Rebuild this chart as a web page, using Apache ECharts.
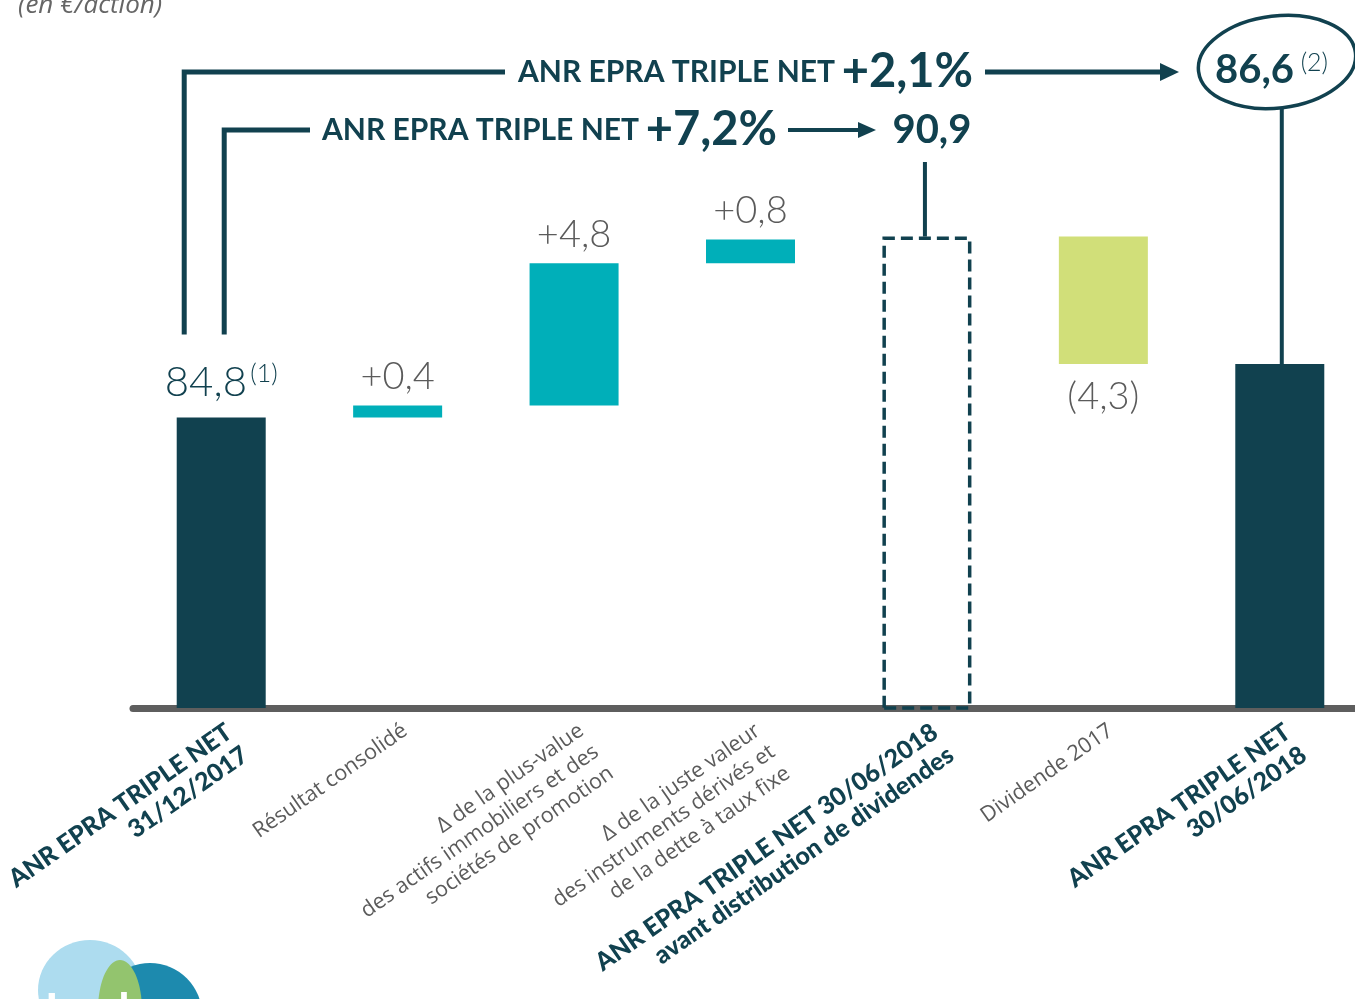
<!DOCTYPE html>
<html>
<head>
<meta charset="utf-8">
<script src="https://cdn.jsdelivr.net/npm/echarts@6/dist/echarts.min.js"></script>
<style>
html,body{margin:0;padding:0;background:#fff;}
#chart{width:1355px;height:999px;}
</style>
</head>
<body>
<div id="chart"></div>
<script>
// ---- data ----
const categories = [
  "ANR EPRA TRIPLE NET\n31/12/2017",
  "Résultat consolidé",
  "Δ de la plus-value\ndes actifs immobiliers et des\nsociétés de promotion",
  "Δ de la juste valeur\ndes instruments dérivés et\nde la dette à taux fixe",
  "ANR EPRA TRIPLE NET 30/06/2018\navant distribution de dividendes",
  "Dividende 2017",
  "ANR EPRA TRIPLE NET\n30/06/2018"
];
const boldCategory = [true, false, false, false, true, false, true];
const openingValue = 84.8;
const increases = [null, 0.4, 4.8, 0.8, null, null, null];
const subtotalValue = 90.9;
const decreases = [null, null, null, null, null, 4.3, null];
const closingValue = 86.6;
const growthLabels = ["+2,1%", "+7,2%"];
const footnotes = ["(1)", "(2)"];
const unitLabel = "(en €/action)";

// ---- colours ----
const DARK = '#11414F', TEAL = '#00AFB9', GREEN = '#D1DF79', GREY = '#5B5B5B';

const fmt = v => v.toFixed(1).replace('.', ',');

// running base for the waterfall
const base = [], totals = [], incr = [], decr = [], sub = [];
let run = openingValue;
for (let i = 0; i < categories.length; i++) {
  base.push('-'); totals.push('-'); incr.push('-'); decr.push('-'); sub.push('-');
}
totals[0] = openingValue; base[0] = 0;
for (let i = 1; i < 4; i++) { base[i] = run; incr[i] = increases[i]; run += increases[i]; }
sub[4] = subtotalValue; base[4] = 0;
base[5] = subtotalValue - decreases[5]; decr[5] = decreases[5];
totals[6] = closingValue; base[6] = 0;

const chart = echarts.init(document.getElementById('chart'), null, {renderer: 'canvas'});

const option = {
  animation: false,
  grid: {left: 133, width: 1235, top: 115, bottom: 291, containLabel: false, outerBoundsMode: 'none'},
  xAxis: {
    type: 'category',
    data: categories,
    axisLine: {show: true, lineStyle: {color: '#5E5E5E', width: 7, cap: 'round'}},
    axisTick: {show: false},
    axisLabel: {
      interval: 0,
      rotate: 35,
      margin: 10,
      align: 'right',
      verticalAlign: 'top',
      formatter: (val, idx) => {
        const tag = boldCategory[idx] ? 'b' : 'n';
        return val.split('\n').map(l => '{' + tag + '|' + l + '}').join('\n');
      },
      rich: {
        b: {fontFamily: 'Lato', fontWeight: 900, fontSize: 25, color: DARK, lineHeight: 28},
        n: {fontFamily: 'Open Sans', fontSize: 21.5, color: GREY, lineHeight: 26}
      }
    }
  },
  yAxis: {
    type: 'value', min: 75, max: 95, show: false, splitLine: {show: false}
  },
  series: [
    {name: 'base', type: 'bar', stack: 'w', data: base, barWidth: 89,
     itemStyle: {color: 'transparent'}, silent: true},
    {name: 'total', type: 'bar', stack: 'w', data: totals, barWidth: 89,
     itemStyle: {color: DARK},
     label: {show: true, position: 'top', distance: 14,
       formatter: p => p.dataIndex === 0 ? '{v|' + fmt(p.value) + '} {s|' + footnotes[0] + '}' : '',
       rich: {
         v: {fontFamily: 'Lato', fontWeight: 300, fontSize: 42, color: DARK},
         s: {fontFamily: 'Lato', fontWeight: 300, fontSize: 25, color: DARK, padding: [0, 0, 16, 0]}
       }}},
    {name: 'increase', type: 'bar', stack: 'w', data: incr, barWidth: 89,
     itemStyle: {color: TEAL},
     label: {show: true, position: 'top', distance: 10,
       formatter: p => '+' + fmt(p.value),
       fontFamily: 'Lato', fontWeight: 300, fontSize: 38, color: GREY}},
    {name: 'subtotal', type: 'bar', stack: 'w', data: sub, barWidth: 87,
     itemStyle: {color: 'rgba(255,255,255,0)', borderColor: DARK, borderWidth: 3.5, borderType: [12, 6]}},
    {name: 'decrease', type: 'bar', stack: 'w', data: decr, barWidth: 89,
     itemStyle: {color: GREEN},
     label: {show: true, position: 'bottom', distance: 14,
       formatter: p => '(' + fmt(p.value) + ')',
       fontFamily: 'Lato', fontWeight: 300, fontSize: 38, color: GREY}}
  ]
};
chart.setOption(option);

// ---- annotations placed from the chart's own scales ----
const px = (i, v) => chart.convertToPixel({xAxisIndex: 0, yAxisIndex: 0}, [i, v]);
const p0 = px(0, openingValue);
const p4 = px(4, subtotalValue);
const p6 = px(6, closingValue);
const bracketBottom = p0[1] - 83;
const row1 = 72, row2 = 130;
const lw = {stroke: DARK, lineWidth: 5, fill: null, lineJoin: 'miter'};
const headRich = {a: {font: 'bold 30px Lato', fill: DARK}, g: {font: 'bold 47px Lato', fill: DARK}};

const graphics = [
  // unit label
  {type: 'text', left: 18, top: -7, z: 10,
   style: {text: unitLabel, font: 'italic 26px "Open Sans"', fill: '#666'}},
  // bracket 1 (+2,1%)
  {type: 'polyline', z: 10, shape: {points: [[p0[0] - 37, bracketBottom], [p0[0] - 37, row1], [505, row1]]}, style: lw},
  {type: 'text', z: 10, x: 518, y: row1,
   style: {text: '{a|ANR EPRA TRIPLE NET}  {g|' + growthLabels[0] + '}', verticalAlign: 'middle', rich: headRich}},
  {type: 'line', z: 10, shape: {x1: 985, y1: row1, x2: 1162, y2: row1}, style: {stroke: DARK, lineWidth: 5}},
  {type: 'polygon', z: 10, shape: {points: [[1160, row1 - 9], [1179, row1], [1160, row1 + 9]]}, style: {fill: DARK}},
  // ellipse around closing value
  {type: 'ellipse', z: 10, rotation: 0.12, x: 1277, y: 62, shape: {cx: 0, cy: 0, rx: 79, ry: 46},
   style: {stroke: DARK, lineWidth: 3.5, fill: null}},
  {type: 'text', z: 11, x: 1215, y: 70,
   style: {text: '{v|' + fmt(closingValue) + '}  {s|' + footnotes[1] + '}', verticalAlign: 'middle',
     rich: {v: {font: 'bold 40px Lato', fill: DARK}, s: {font: '300 25px Lato', fill: DARK, padding: [0, 0, 14, 0]}}}},
  {type: 'line', z: 10, shape: {x1: p6[0] + 2, y1: 108, x2: p6[0] + 2, y2: p6[1]}, style: {stroke: DARK, lineWidth: 4}},
  // bracket 2 (+7,2%)
  {type: 'polyline', z: 10, shape: {points: [[p0[0] + 3, bracketBottom], [p0[0] + 3, row2], [310, row2]]}, style: lw},
  {type: 'text', z: 10, x: 322, y: row2,
   style: {text: '{a|ANR EPRA TRIPLE NET}  {g|' + growthLabels[1] + '}', verticalAlign: 'middle', rich: headRich}},
  {type: 'line', z: 10, shape: {x1: 788, y1: row2, x2: 860, y2: row2}, style: {stroke: DARK, lineWidth: 4}},
  {type: 'polygon', z: 10, shape: {points: [[858, row2 - 8], [876, row2], [858, row2 + 8]]}, style: {fill: DARK}},
  {type: 'text', z: 10, x: p4[0] + 5, y: row2,
   style: {text: fmt(subtotalValue), font: 'bold 40px Lato', fill: DARK, align: 'center', verticalAlign: 'middle'}},
  {type: 'line', z: 10, shape: {x1: p4[0] - 2, y1: 162, x2: p4[0] - 2, y2: p4[1]}, style: {stroke: DARK, lineWidth: 4}},
  // logo hint (bottom-left)
  {type: 'ellipse', z: 1, shape: {cx: 90, cy: 990, rx: 52, ry: 50}, style: {fill: '#ADDCEF'}},
  {type: 'circle', z: 2, shape: {cx: 150, cy: 1015, r: 52}, style: {fill: '#1D8AAE'}},
  {type: 'ellipse', z: 3, shape: {cx: 120, cy: 1010, rx: 22, ry: 50}, style: {fill: '#93C46E'}},
  {type: 'text', z: 4, x: 45, y: 988, style: {text: 'Icade', font: 'bold 46px Lato', fill: '#fff'}}
];
chart.setOption({graphic: graphics});
</script>
</body>
</html>
